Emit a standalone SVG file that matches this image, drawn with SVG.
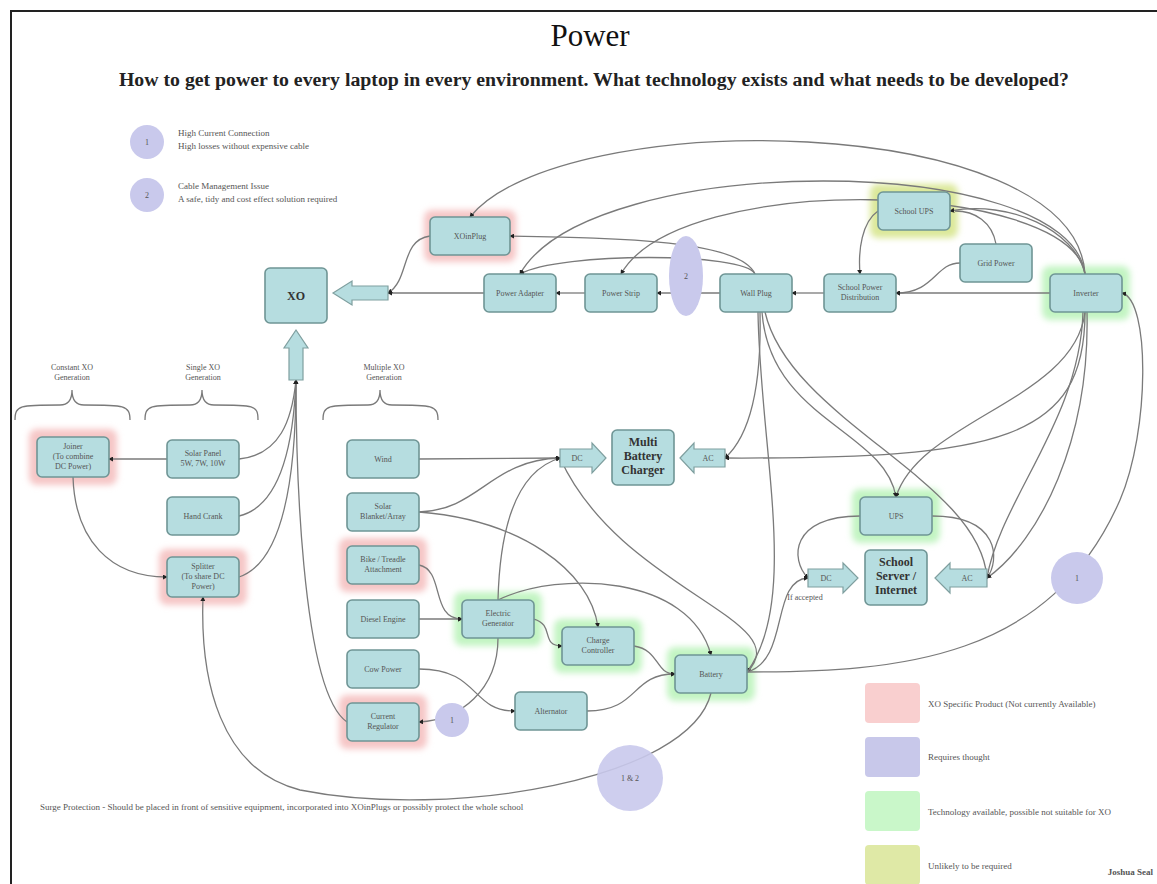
<svg xmlns="http://www.w3.org/2000/svg" width="1157" height="884" viewBox="0 0 1157 884">
<defs>
<marker id="ah" viewBox="0 0 6 6" refX="5" refY="3" markerWidth="5" markerHeight="5" orient="auto" markerUnits="userSpaceOnUse">
<path d="M0,0 L6,3 L0,6 z" fill="#222"/>
</marker>
<filter id="blur" x="-30%" y="-30%" width="160%" height="160%"><feGaussianBlur stdDeviation="3"/></filter>
</defs>
<style>
.n{fill:#b6dde0;stroke:#6f9595;stroke-width:1.6}
.t{font-family:"Liberation Serif",serif;font-size:8px;fill:#555;text-anchor:middle}
.tb{font-family:"Liberation Serif",serif;font-size:12px;font-weight:bold;fill:#333;text-anchor:middle}
.pk{fill:#f6c6c6}
.gr{fill:#c2f4c2}
.yg{fill:#dbe89a}
.pu{fill:#c9c9ec}
.c{fill:none;stroke:#7a7a7a;stroke-width:1.3;marker-end:url(#ah)}
.cn{fill:none;stroke:#7a7a7a;stroke-width:1.3}
.ba{fill:#b6dde0;stroke:#7f9f9f;stroke-width:1.2}
.lg{font-family:"Liberation Serif",serif;font-size:9px;fill:#555}
</style>
<rect width="1157" height="884" fill="#fff"/>
<path d="M11,884 V11 H1157" fill="none" stroke="#222" stroke-width="2"/>
<text x="590" y="46" font-family="Liberation Serif,serif" font-size="31" fill="#111" text-anchor="middle">Power</text>
<text x="594" y="86" font-family="Liberation Serif,serif" font-size="19.8" font-weight="bold" fill="#222" text-anchor="middle">How to get power to every laptop in every environment. What technology exists and what needs to be developed?</text>

<g id="legend-top">
<circle cx="147" cy="142" r="17" class="pu"/><text x="147" y="145" class="t">1</text>
<text x="178" y="136" class="lg">High Current Connection</text>
<text x="178" y="149" class="lg" font-size="7.5">High losses without expensive cable</text>
<circle cx="147" cy="195" r="17" class="pu"/><text x="147" y="198" class="t">2</text>
<text x="178" y="189" class="lg">Cable Management Issue</text>
<text x="178" y="202" class="lg" font-size="7.5">A safe, tidy and cost effect solution required</text>
</g>

<g id="halos" filter="url(#blur)">
<rect x="424" y="210" width="92" height="52" rx="8" class="pk"/>
<rect x="870" y="184" width="88" height="54" rx="8" class="yg"/>
<rect x="1042" y="266" width="88" height="54" rx="8" class="gr"/>
<rect x="852" y="489" width="88" height="54" rx="8" class="gr"/>
<rect x="29" y="429" width="88" height="56" rx="8" class="pk"/>
<rect x="159" y="549" width="88" height="56" rx="8" class="pk"/>
<rect x="339" y="538" width="88" height="54" rx="8" class="pk"/>
<rect x="339" y="695" width="88" height="54" rx="8" class="pk"/>
<rect x="454" y="592" width="88" height="54" rx="8" class="gr"/>
<rect x="554" y="619" width="88" height="54" rx="8" class="gr"/>
<rect x="667" y="647" width="88" height="54" rx="8" class="gr"/>
</g>

<g id="connectors">
<path class="c" d="M1085,274 C1075,110 560,105 470,217"/>
<path class="c" d="M1085,274 C1070,150 590,150 520,274"/>
<path class="c" d="M1085,274 C1070,180 680,170 621,274"/>
<path class="c" d="M1085,274 C1075,230 1010,200 950,211"/>
<path class="cn" d="M996,244 C992,222 975,211 955,211"/>
<path class="c" d="M878,211 C862,222 858,250 860,274"/>
<path class="c" d="M960,263 C935,263 935,293 896,293"/>
<path class="c" d="M1050,293 L896,293"/>
<path class="c" d="M824,293 L792,293"/>
<path class="c" d="M720,293 L657,293"/>
<path class="c" d="M585,293 L556,293"/>
<path class="c" d="M484,293 L388,293"/>
<path class="c" d="M430,236 C400,240 410,280 388,293"/>
<path class="c" d="M755,274 C740,240 620,238 510,236"/>
<path class="c" d="M755,274 C745,252 560,252 520,274"/>
<path class="c" d="M760,312 C762,400 745,440 725,458"/>
<path class="c" d="M762,312 C770,420 885,430 896,497"/>
<path class="c" d="M765,312 C790,420 980,480 987,578"/>
<path class="c" d="M758,312 C760,450 800,600 747,672"/>
<path class="c" d="M1085,312 C1085,440 1000,459 725,458"/>
<path class="c" d="M1085,312 C1075,400 920,420 896,497"/>
<path class="c" d="M1087,312 C1090,440 1040,540 987,578"/>
<path class="c" d="M1083,312 C1080,420 1000,500 987,578"/>
<path class="c" d="M932,516 C1000,516 1000,560 987,578"/>
<path class="c" d="M860,516 C790,516 790,560 808,578"/>
<path class="c" d="M747,672 C790,660 770,580 808,578"/>
<path class="c" d="M747,672 C900,672 1050,660 1120,500 C1150,430 1150,300 1122,293"/>
<path class="c" d="M711,693 C690,780 450,820 300,790 C220,770 200,680 203,597"/>
<path class="c" d="M747,672 C800,620 620,590 560,458"/>
<path class="c" d="M167,459 L109,459"/>
<path class="c" d="M73,477 C75,540 110,577 167,577"/>
<path class="c" d="M239,459 C280,455 292,420 296,380"/>
<path class="c" d="M239,516 C285,505 294,430 296,380"/>
<path class="c" d="M239,577 C290,560 296,450 296,380"/>
<path class="c" d="M347,722 C300,690 296,450 296,380"/>
<path class="c" d="M419,459 L560,458"/>
<path class="c" d="M419,512 C480,510 490,460 560,458"/>
<path class="c" d="M419,512 C520,520 590,570 598,627"/>
<path class="c" d="M498,600 C500,520 520,470 560,458"/>
<path class="c" d="M498,638 C498,690 460,720 419,722"/>
<path class="c" d="M419,565 C445,570 430,619 462,619"/>
<path class="c" d="M419,619 L462,619"/>
<path class="c" d="M419,669 C480,669 470,711 515,711"/>
<path class="c" d="M534,619 C555,625 540,646 562,646"/>
<path class="c" d="M634,646 C660,650 655,674 675,674"/>
<path class="c" d="M587,711 C640,711 630,674 675,674"/>
<path class="c" d="M498,600 C560,570 690,575 711,655"/>
</g>

<g id="block-arrows">
<polygon class="ba" points="333,293 352,281 352,286 388,286 388,300 352,300 352,305"/>
<polygon class="ba" points="296,330 308,348 303,348 303,380 289,380 289,348 284,348"/>
<polygon class="ba" points="560,449 592,449 592,443 606,458 592,473 592,467 560,467"/>
<text x="577" y="461" class="t">DC</text>
<polygon class="ba" points="680,458 694,443 694,449 725,449 725,467 694,467 694,473"/>
<text x="708" y="461" class="t">AC</text>
<polygon class="ba" points="808,569 843,569 843,563 858,578 843,593 843,587 808,587"/>
<text x="826" y="581" class="t">DC</text>
<polygon class="ba" points="935,578 950,563 950,569 987,569 987,587 950,587 950,593"/>
<text x="967" y="581" class="t">AC</text>
<text x="805" y="600" class="t" text-anchor="start">If accepted</text>
</g>

<g id="XO"><rect x="265" y="268" width="62" height="55" rx="5" class="n"/><text x="296" y="300" class="tb">XO</text></g>
<g id="XOinPlug"><rect x="430" y="217" width="80" height="38" rx="5" class="n"/><text x="470" y="239" class="t">XOinPlug</text></g>
<g id="PowerAdapter"><rect x="484" y="274" width="72" height="38" rx="5" class="n"/><text x="520" y="296" class="t">Power Adapter</text></g>
<g id="PowerStrip"><rect x="585" y="274" width="72" height="38" rx="5" class="n"/><text x="621" y="296" class="t">Power Strip</text></g>
<g id="issue2"><ellipse cx="686" cy="276" rx="17" ry="40" class="pu"/><text x="686" y="279" class="t">2</text></g>
<g id="WallPlug"><rect x="720" y="274" width="72" height="38" rx="5" class="n"/><text x="756" y="296" class="t">Wall Plug</text></g>
<g id="SchoolPowerDistribution"><rect x="824" y="274" width="72" height="38" rx="5" class="n"/><text x="860" y="290" class="t">School Power</text><text x="860" y="300" class="t">Distribution</text></g>
<g id="SchoolUPS"><rect x="878" y="192" width="72" height="38" rx="5" class="n"/><text x="914" y="214" class="t">School UPS</text></g>
<g id="GridPower"><rect x="960" y="244" width="72" height="38" rx="5" class="n"/><text x="996" y="266" class="t">Grid Power</text></g>
<g id="Inverter"><rect x="1050" y="274" width="72" height="38" rx="5" class="n"/><text x="1086" y="296" class="t">Inverter</text></g>
<g id="MultiBatteryCharger"><rect x="612" y="430" width="62" height="55" rx="5" class="n"/><text x="643" y="446" class="tb" font-size="11">Multi</text><text x="643" y="460" class="tb" font-size="11">Battery</text><text x="643" y="474" class="tb" font-size="11">Charger</text></g>
<g id="UPS"><rect x="860" y="497" width="72" height="38" rx="5" class="n"/><text x="896" y="519" class="t">UPS</text></g>
<g id="SchoolServer"><rect x="865" y="550" width="62" height="55" rx="5" class="n"/><text x="896" y="566" class="tb" font-size="11">School</text><text x="896" y="580" class="tb" font-size="11">Server /</text><text x="896" y="594" class="tb" font-size="11">Internet</text></g>

<g id="group-labels">
<text x="72" y="370" class="t">Constant XO</text><text x="72" y="380" class="t">Generation</text>
<path class="cn" d="M15,420 C15,405 20,405 60,405 C68,405 72,400 72,390 C72,400 76,405 84,405 C124,405 130,405 130,420"/>
<text x="203" y="370" class="t">Single XO</text><text x="203" y="380" class="t">Generation</text>
<path class="cn" d="M145,420 C145,405 150,405 190,405 C198,405 202,400 202,390 C202,400 206,405 214,405 C254,405 258,405 258,420"/>
<text x="384" y="370" class="t">Multiple XO</text><text x="384" y="380" class="t">Generation</text>
<path class="cn" d="M323,420 C323,405 328,405 368,405 C376,405 380,400 380,390 C380,400 384,405 392,405 C432,405 438,405 438,420"/>
</g>

<g id="Joiner"><rect x="37" y="437" width="72" height="40" rx="5" class="n"/><text x="73" y="449" class="t">Joiner</text><text x="73" y="459" class="t">(To combine</text><text x="73" y="469" class="t">DC Power)</text></g>
<g id="SolarPanel"><rect x="167" y="440" width="72" height="38" rx="5" class="n"/><text x="203" y="456" class="t">Solar Panel</text><text x="203" y="466" class="t">5W, 7W, 10W</text></g>
<g id="HandCrank"><rect x="167" y="497" width="72" height="38" rx="5" class="n"/><text x="203" y="519" class="t">Hand Crank</text></g>
<g id="Splitter"><rect x="167" y="557" width="72" height="40" rx="5" class="n"/><text x="203" y="569" class="t">Splitter</text><text x="203" y="579" class="t">(To share DC</text><text x="203" y="589" class="t">Power)</text></g>
<g id="Wind"><rect x="347" y="440" width="72" height="38" rx="5" class="n"/><text x="383" y="462" class="t">Wind</text></g>
<g id="SolarBlanket"><rect x="347" y="493" width="72" height="38" rx="5" class="n"/><text x="383" y="509" class="t">Solar</text><text x="383" y="519" class="t">Blanket/Array</text></g>
<g id="Bike"><rect x="347" y="546" width="72" height="38" rx="5" class="n"/><text x="383" y="562" class="t">Bike / Treadle</text><text x="383" y="572" class="t">Attachment</text></g>
<g id="Diesel"><rect x="347" y="600" width="72" height="38" rx="5" class="n"/><text x="383" y="622" class="t">Diesel Engine</text></g>
<g id="CowPower"><rect x="347" y="650" width="72" height="38" rx="5" class="n"/><text x="383" y="672" class="t">Cow Power</text></g>
<g id="CurrentRegulator"><rect x="347" y="703" width="72" height="38" rx="5" class="n"/><text x="383" y="719" class="t">Current</text><text x="383" y="729" class="t">Regulator</text></g>
<g id="issue1a"><circle cx="452" cy="720" r="17" class="pu"/><text x="452" y="723" class="t">1</text></g>
<g id="ElectricGenerator"><rect x="462" y="600" width="72" height="38" rx="5" class="n"/><text x="498" y="616" class="t">Electric</text><text x="498" y="626" class="t">Generator</text></g>
<g id="ChargeController"><rect x="562" y="627" width="72" height="38" rx="5" class="n"/><text x="598" y="643" class="t">Charge</text><text x="598" y="653" class="t">Controller</text></g>
<g id="Alternator"><rect x="515" y="692" width="72" height="38" rx="5" class="n"/><text x="551" y="714" class="t">Alternator</text></g>
<g id="Battery"><rect x="675" y="655" width="72" height="38" rx="5" class="n"/><text x="711" y="677" class="t">Battery</text></g>
<g id="issue12"><circle cx="630" cy="778" r="33" class="pu" fill-opacity="0.9"/><text x="630" y="781" class="t">1 &amp; 2</text></g>
<g id="issue1b"><circle cx="1077" cy="578" r="26" class="pu"/><text x="1077" y="581" class="t">1</text></g>

<g id="legend">
<rect x="865" y="683" width="55" height="40" rx="4" fill="#f9cfcf"/>
<text x="928" y="707" class="lg">XO Specific Product (Not currently Available)</text>
<rect x="865" y="737" width="55" height="40" rx="4" fill="#c8c8ea"/>
<text x="928" y="760" class="lg">Requires thought</text>
<rect x="865" y="791" width="55" height="40" rx="4" fill="#c9f7c9"/>
<text x="928" y="815" class="lg">Technology available, possible not suitable for XO</text>
<rect x="865" y="845" width="55" height="40" rx="4" fill="#dfe9a6"/>
<text x="928" y="869" class="lg">Unlikely to be required</text>
<text x="1153" y="875" class="lg" font-size="7.5" font-weight="bold" text-anchor="end">Joshua Seal</text>
</g>
<text x="40" y="810" class="lg" font-size="7.5">Surge Protection  -  Should be placed in front of sensitive equipment, incorporated into XOinPlugs or possibly protect the whole school</text>
</svg>
